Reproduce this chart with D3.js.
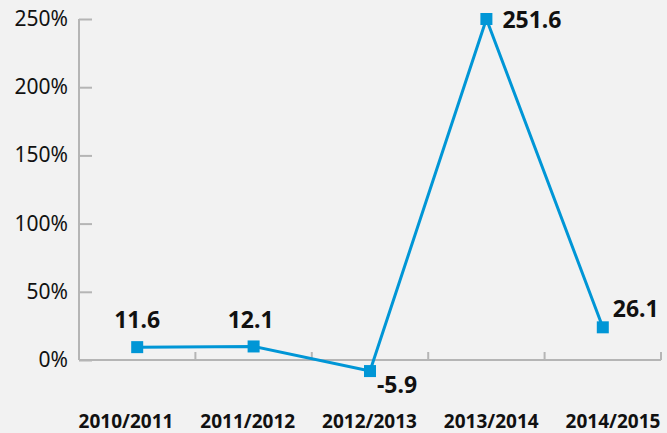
<!DOCTYPE html>
<html>
<head>
<meta charset="utf-8">
<script src="https://cdn.jsdelivr.net/npm/d3@7.9.0/dist/d3.min.js"></script>
<style>
  body { margin: 0; background: #f2f2f2; }
  svg { display: block; font-family: "Noto Sans", sans-serif; }
</style>
</head>
<body>
<svg width="667" height="433"></svg>
<script>
const seasons = ['2010/2011', '2011/2012', '2012/2013', '2013/2014', '2014/2015'];
const growth = [11.6, 12.1, -5.9, 251.6, 26.1];
const yTicks = [0, 50, 100, 150, 200, 250];

const svg = d3.select('svg');
const axisColor = '#b5b5b5';
const lineColor = '#0096d6';

let x = d3.scaleBand().domain(seasons).range([79, 661]);
let xLabel = d3.scalePoint().domain(seasons).range([126, 613]);
let y = d3.scaleLinear().domain([0, 250]).range([360, 19]);

// y axis: ticks point inwards
let yAxis = svg.append('g').attr('transform', 'translate(79,0)')
  .call(d3.axisRight(y).tickValues(yTicks).tickSize(13).tickFormat(''));
yAxis.select('.domain').attr('d', `M0,${y(250)}V${y(0)}`);
yAxis.selectAll('line, path').attr('stroke', axisColor).attr('stroke-width', 2);

svg.append('g').selectAll('text').data(yTicks).join('text')
  .attr('x', 68).attr('y', (d) => y(d) + 7)
  .attr('text-anchor', 'end').attr('font-size', 21).attr('fill', '#111')
  .text((d) => d + '%');

// x axis with ticks at band edges
let edges = seasons.map((s) => x(s)).slice(1).concat([x.range()[1]]);
let xAxis = svg.append('g').attr('transform', `translate(0,${y(0)})`);
xAxis.append('line').attr('x1', 79).attr('x2', 661)
  .attr('stroke', axisColor).attr('stroke-width', 2);
xAxis.selectAll('.tk').data(edges).join('line').attr('class', 'tk')
  .attr('x1', (d) => d).attr('x2', (d) => d).attr('y1', 0).attr('y2', -8)
  .attr('stroke', axisColor).attr('stroke-width', 2);

svg.append('g').selectAll('text').data(seasons).join('text')
  .attr('x', (d) => xLabel(d)).attr('y', 428)
  .attr('text-anchor', 'middle').attr('font-size', 19).attr('font-weight', 'bold')
  .attr('fill', '#111').text((d) => d);

// series (drawn slightly below the axis baseline, as in the source)
let data = seasons.map((s, i) => ({ season: s, value: growth[i] }));
let cx = (d) => x(d.season) + x.bandwidth() / 2;
let series = svg.append('g').attr('transform', 'translate(0,3)');
let yS = d3.scaleLinear().domain([0, 251.6]).range([360, 16]);

series.append('path').datum(data)
  .attr('d', d3.line().x(cx).y((d) => yS(d.value)))
  .attr('fill', 'none').attr('stroke', lineColor).attr('stroke-width', 3);

series.selectAll('rect').data(data).join('rect')
  .attr('x', (d) => cx(d) - 6).attr('y', (d) => yS(d.value) - 6)
  .attr('width', 12).attr('height', 12).attr('fill', lineColor);

// value labels
let labelPos = [
  { dx: 0, dy: -19, anchor: 'middle' },
  { dx: -3, dy: -18, anchor: 'middle' },
  { dx: 7, dy: 22, anchor: 'start' },
  { dx: 16, dy: 9, anchor: 'start' },
  { dx: 10, dy: -10, anchor: 'start' }
];
series.selectAll('text').data(data).join('text')
  .attr('x', (d, i) => cx(d) + labelPos[i].dx)
  .attr('y', (d, i) => yS(d.value) + labelPos[i].dy)
  .attr('text-anchor', (d, i) => labelPos[i].anchor)
  .attr('font-size', 23).attr('font-weight', 'bold').attr('fill', '#111')
  .text((d) => d.value.toFixed(1));
</script>
</body>
</html>
